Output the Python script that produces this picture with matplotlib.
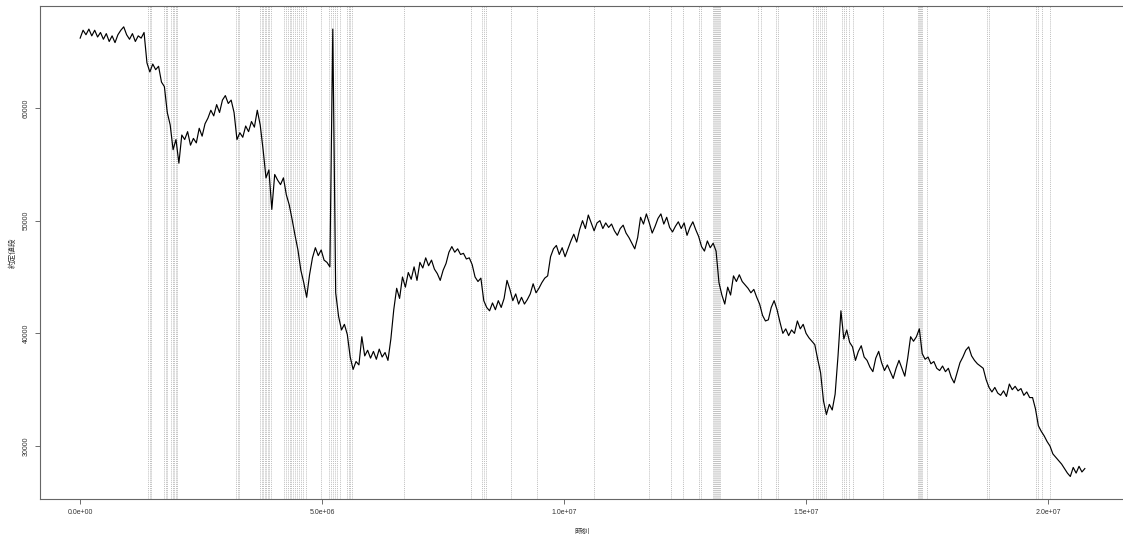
import numpy as np
import matplotlib
matplotlib.use('Agg')
import matplotlib.pyplot as plt

plt.rcParams['font.family'] = ['Liberation Sans', 'Noto Sans CJK JP', 'DejaVu Sans']

# execution price, sampled every 60000 time units from t = 0
t_step = 60000
price = [
    66200, 66900, 66500, 67000, 66400, 66900, 66300, 66700, 66100, 66600,
    65900, 66400, 65800, 66500, 66900, 67200, 66500, 66100, 66600, 65900,
    66400, 66200, 66700, 64000, 63200, 63900, 63400, 63700, 62300, 61900,
    59600, 58500, 56300, 57200, 55100, 57600, 57200, 57900, 56700, 57300,
    56900, 58200, 57500, 58600, 59100, 59800, 59300, 60300, 59600, 60700,
    61100, 60400, 60700, 59600, 57200, 57800, 57400, 58400, 57900, 58800,
    58300, 59800, 58500, 56300, 53800, 54500, 51000, 54100, 53600, 53200,
    53800, 52300, 51400, 50100, 48700, 47400, 45600, 44500, 43200, 45200,
    46700, 47600, 46900, 47400, 46500, 46300, 45900, 67000, 43600, 41500,
    40300, 40800, 39900, 37900, 36800, 37500, 37200, 39700, 38000, 38500,
    37800, 38400, 37700, 38600, 37900, 38300, 37600, 39500, 42100, 44000,
    43100, 45000, 44100, 45400, 44800, 45900, 44700, 46300, 45800, 46700,
    46000, 46500, 45700, 45300, 44700, 45600, 46200, 47200, 47700, 47200,
    47500, 47000, 47100, 46600, 46700, 46100, 45000, 44600, 44900, 42900,
    42300, 42000, 42700, 42100, 42900, 42300, 43100, 44700, 43900, 42900,
    43500, 42600, 43200, 42600, 43000, 43500, 44400, 43600, 44000, 44500,
    44900, 45100, 46800, 47500, 47800, 47000, 47600, 46800, 47500, 48200,
    48800, 48100, 49200, 50000, 49300, 50500, 49800, 49100, 49800, 50000,
    49300, 49800, 49400, 49700, 49100, 48700, 49300, 49600, 48900, 48500,
    48000, 47500, 48500, 50300, 49700, 50600, 49800, 48900, 49500, 50200,
    50600, 49700, 50300, 49400, 49000, 49500, 49900, 49300, 49800, 48700,
    49400, 49900, 49200, 48600, 47700, 47300, 48200, 47600, 48000, 47300,
    44500, 43400, 42600, 44100, 43400, 45100, 44600, 45200, 44600, 44300,
    44000, 43600, 43900, 43200, 42600, 41600, 41100, 41200, 42300, 42900,
    42100, 41000, 40000, 40400, 39800, 40300, 40000, 41100, 40400, 40800,
    40000, 39600, 39300, 39000, 37700, 36500, 34000, 32800, 33700, 33200,
    34600, 38000, 42000, 39500, 40300, 39200, 38800, 37600, 38400, 38900,
    37900, 37600, 37000, 36600, 37800, 38400, 37400, 36700, 37200, 36600,
    36000, 36900, 37600, 36900, 36200, 37800, 39700, 39300, 39700, 40400,
    38200, 37700, 37900, 37300, 37500, 36900, 36700, 37100, 36600, 36900,
    36100, 35600, 36500, 37400, 37900, 38500, 38800, 38000, 37600, 37300,
    37100, 36900, 35900, 35200, 34800, 35200, 34700, 34500, 34900, 34400,
    35500, 35000, 35300, 34900, 35100, 34500, 34800, 34300, 34300, 33300,
    31800, 31300, 30900, 30400, 30000, 29300, 29000, 28700, 28400, 28000,
    27600, 27300, 28100, 27600, 28200, 27700, 28000,
]

# times of the marked events (vertical lines)
event_times = [
    1405000, 1436000, 1467000, 1736000, 1767000, 1798000,
    1880000, 1911000, 1942000, 1973000, 2004000,
    3223000, 3254000, 3285000,
    3719000, 3750000, 3781000, 3812000, 3843000, 3874000, 3905000, 3936000,
    4215000, 4256000, 4298000, 4329000, 4360000, 4401000, 4442000, 4483000,
    4525000, 4566000, 4607000, 4659000,
    4979000, 5145000, 5186000, 5227000, 5269000, 5310000, 5362000,
    5517000, 5548000, 5579000, 5620000,
    6694000, 8079000, 8306000, 8347000, 8388000, 8905000, 9442000,
    10620000, 11756000, 12211000, 12459000, 12789000, 12831000,
    13080000, 13100000, 13120000, 13140000, 13160000, 13180000, 13200000, 13220000,
    14008000, 14060000, 14380000, 14421000,
    15145000, 15196000, 15248000, 15289000, 15320000, 15372000, 15413000,
    15744000, 15775000, 15826000, 15878000, 15971000, 16591000,
    17314000, 17335000, 17355000, 17376000, 17397000, 17500000,
    18740000, 18771000, 19752000, 19793000, 19866000, 20041000,
]

x_ticks = [0, 5e6, 1e7, 1.5e7, 2e7]
x_labels = ['0.0e+00', '5.0e+06', '1.0e+07', '1.5e+07', '2.0e+07']
y_ticks = [30000, 40000, 50000, 60000]

times = np.arange(len(price)) * t_step

fig = plt.figure(figsize=(11.23, 5.34), dpi=100)
ax = fig.add_axes([40 / 1123, 35 / 534, 1085 / 1123, 493 / 534])

for t in event_times:
    ax.axvline(t, color='#a8a8a8', lw=0.5, linestyle=(0, (1.5, 1.5)), zorder=1)

ax.plot(times, price, color='black', lw=0.85, zorder=2)

ax.set_xlim(-0.83e6, 21.59e6)
ax.set_ylim(25300, 69050)

ax.set_xticks(x_ticks)
ax.set_xticklabels(x_labels)
ax.set_yticks(y_ticks)
ax.set_yticklabels([str(v) for v in y_ticks], rotation=90, va='center')
ax.tick_params(axis='both', labelsize=5, length=3.5, width=0.6,
               color='#555555', labelcolor='#333333', pad=4)

for side in ['left', 'bottom', 'top']:
    ax.spines[side].set_color('#666666')
    ax.spines[side].set_linewidth(0.8)
ax.spines['right'].set_visible(False)

ax.set_xlabel('時刻', fontsize=5.5, color='#333333', labelpad=8,
              family=['Noto Sans CJK JP', 'DejaVu Sans'])
ax.set_ylabel('約定値段', fontsize=5.5, color='#333333', labelpad=4,
              family=['Noto Sans CJK JP', 'DejaVu Sans'])

fig.savefig('out.png', dpi=100)
